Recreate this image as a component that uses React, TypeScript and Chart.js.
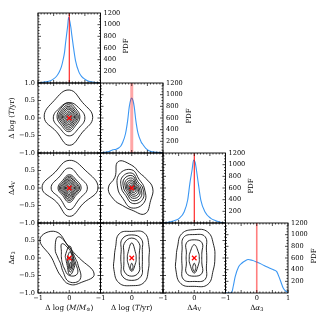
import React, { useEffect, useRef } from 'react';
import { Chart, registerables } from 'chart.js';
Chart.register(...registerables);

// ---------- data ----------
const X_TICK_LABELS = [-1, 0, 1];
const Y_TICK_LABELS = [1, 0.5, 0, -0.5, -1];
const PDF_TICK_LABELS = [200, 400, 600, 800, 1000, 1200];

// 1D PDFs (x, value)
const PDF_M_X = [-1, -0.85, -0.6, -0.5, -0.4, -0.32, -0.25, -0.2, -0.15, -0.12, -0.08, -0.05, -0.02, 0.0, 0.05, 0.08, 0.12, 0.2, 0.31, 0.4, 0.5, 0.6, 0.85, 1.0];
const PDF_M_Y = [0, 10, 40, 70, 120, 187, 280, 390, 530, 677, 850, 980, 1125, 1100, 960, 830, 670, 385, 187, 110, 65, 35, 8, 0];

const PDF_T_X = [-1, -0.8, -0.6, -0.5, -0.42, -0.35, -0.3, -0.2, -0.13, -0.08, -0.03, 0, 0.04, 0.08, 0.13, 0.2, 0.3, 0.35, 0.45, 0.55, 0.7, 1.0];
const PDF_T_Y = [5, 15, 55, 65, 85, 120, 170, 330, 560, 790, 920, 940, 900, 790, 560, 340, 190, 150, 80, 40, 15, 3];

const PDF_AV_X = [-1, -0.9, -0.64, -0.48, -0.32, -0.21, -0.14, -0.07, -0.02, 0.03, 0.07, 0.13, 0.21, 0.34, 0.53, 0.69, 0.9, 1.0];
const PDF_AV_Y = [0, 5, 40, 80, 194, 394, 680, 909, 1080, 1040, 909, 680, 394, 194, 80, 40, 5, 0];

const PDF_AL_X = [-1, -0.85, -0.8, -0.75, -0.69, -0.58, -0.48, -0.38, -0.27, -0.15, 0, 0.15, 0.3, 0.42, 0.55, 0.64, 0.75, 0.85, 0.96, 1.0];
const PDF_AL_Y = [0, 0, 10, 120, 280, 450, 510, 550, 575, 560, 530, 495, 455, 423, 395, 366, 223, 80, 22, 10];

// 2D contours: centre c and radii r at equally spaced angles starting east, counter-clockwise
type Ring = { c: number[]; r: number[] };
const C_M_T: Ring[] = [
  { c: [0, 0.02], r: [0.75, 0.6, 0.78, 0.68, 0.8, 0.58, 0.8, 0.6] },
  { c: [0, 0], r: [0.5, 0.42, 0.44, 0.42, 0.51, 0.42, 0.51, 0.42] },
  { c: [-0.02, 0.03], r: [0.36, 0.33, 0.4, 0.35, 0.37, 0.33, 0.42, 0.33] },
  { c: [-0.02, 0.03], r: [0.31, 0.28, 0.35, 0.3, 0.32, 0.28, 0.37, 0.28] },
  { c: [-0.02, 0.03], r: [0.27, 0.24, 0.3, 0.26, 0.28, 0.24, 0.32, 0.24] },
  { c: [-0.02, 0.03], r: [0.23, 0.2, 0.26, 0.22, 0.24, 0.2, 0.27, 0.2] },
  { c: [-0.02, 0.03], r: [0.19, 0.17, 0.22, 0.18, 0.2, 0.17, 0.22, 0.17] },
  { c: [-0.02, 0.03], r: [0.15, 0.13, 0.17, 0.14, 0.16, 0.13, 0.18, 0.13] },
  { c: [-0.02, 0.03], r: [0.11, 0.1, 0.13, 0.1, 0.12, 0.1, 0.13, 0.1] },
  { c: [-0.02, 0.03], r: [0.075, 0.065, 0.085, 0.07, 0.08, 0.065, 0.09, 0.065] },
  { c: [-0.02, 0.03], r: [0.04, 0.035, 0.045, 0.035, 0.04, 0.035, 0.045, 0.035] },
];
const C_M_AV: Ring[] = [
  { c: [0, 0], r: [0.92, 0.72, 0.79, 0.64, 0.87, 0.57, 0.81, 0.63] },
  { c: [0, 0], r: [0.58, 0.45, 0.57, 0.45, 0.58, 0.42, 0.62, 0.45] },
  { c: [0, 0], r: [0.38, 0.32, 0.38, 0.3, 0.36, 0.3, 0.41, 0.3] },
  { c: [0, 0], r: [0.33, 0.27, 0.34, 0.26, 0.32, 0.26, 0.36, 0.26] },
  { c: [0, 0], r: [0.29, 0.24, 0.3, 0.23, 0.28, 0.23, 0.32, 0.23] },
  { c: [0, 0], r: [0.25, 0.2, 0.26, 0.2, 0.24, 0.2, 0.27, 0.2] },
  { c: [0, 0], r: [0.21, 0.17, 0.22, 0.17, 0.2, 0.17, 0.23, 0.17] },
  { c: [0, 0], r: [0.17, 0.14, 0.18, 0.14, 0.16, 0.14, 0.19, 0.14] },
  { c: [0, 0], r: [0.13, 0.11, 0.14, 0.11, 0.125, 0.11, 0.15, 0.11] },
  { c: [0, 0], r: [0.09, 0.075, 0.1, 0.075, 0.09, 0.075, 0.1, 0.075] },
  { c: [0, 0], r: [0.05, 0.042, 0.055, 0.042, 0.05, 0.042, 0.055, 0.042] },
];
const C_T_AV: Ring[] = [
  { c: [0, 0], r: [0.67, 0.53, 0.5, 0.65, 0.87, 0.62, 0.75, 0.66, 0.58, 0.63, 0.85, 0.7] },
  { c: [0, 0], r: [0.4, 0.34, 0.52, 0.56, 0.45, 0.41, 0.57, 0.57] },
  { c: [0.02, 0], r: [0.33, 0.25, 0.42, 0.45, 0.35, 0.3, 0.44, 0.46] },
  { c: [0.02, 0], r: [0.27, 0.2, 0.35, 0.37, 0.28, 0.24, 0.36, 0.38] },
  { c: [0.02, 0], r: [0.22, 0.16, 0.28, 0.3, 0.22, 0.19, 0.29, 0.31] },
  { c: [0.02, 0], r: [0.18, 0.13, 0.22, 0.24, 0.18, 0.15, 0.23, 0.25] },
  { c: [0.02, 0], r: [0.14, 0.1, 0.17, 0.19, 0.14, 0.12, 0.18, 0.19] },
  { c: [0.02, 0], r: [0.1, 0.08, 0.12, 0.14, 0.1, 0.09, 0.13, 0.14] },
  { c: [0.02, 0], r: [0.07, 0.055, 0.08, 0.09, 0.07, 0.06, 0.09, 0.09] },
  { c: [0.02, 0], r: [0.04, 0.03, 0.045, 0.05, 0.04, 0.035, 0.05, 0.05] },
];
const C_M_AL: Ring[] = [
  { c: [0, 0], r: [0.32, 0.22, 0.22, 0.3, 0.87, 1.08, 0.56, 0.5, 0.57, 0.75, 0.8, 0.92] },
  { c: [0, 0], r: [0.19, 0.17, 0.2, 0.32, 0.7, 0.52, 0.36, 0.32, 0.42, 0.68, 0.7, 0.31] },
  { c: [0, 0], r: [0.14, 0.14, 0.15, 0.25, 0.47, 0.29, 0.25, 0.26, 0.33, 0.5, 0.52, 0.22] },
  { c: [0.02, -0.06], r: [0.11, 0.14, 0.4, 0.2, 0.12, 0.14, 0.42, 0.22] },
  { c: [0.03, -0.1], r: [0.08, 0.1, 0.28, 0.13, 0.08, 0.1, 0.3, 0.15] },
  { c: [0.04, -0.15], r: [0.05, 0.06, 0.17, 0.08, 0.05, 0.06, 0.18, 0.08] },
  { c: [0.05, -0.2], r: [0.03, 0.035, 0.08, 0.04, 0.03, 0.035, 0.08, 0.04] },
];
const C_T_AL: Ring[] = [
  { c: [0, 0], r: [0.55, 0.64, 0.82, 0.76, 0.8, 0.6, 0.56, 0.66, 0.82, 0.79, 0.8, 0.62] },
  { c: [0, 0], r: [0.34, 0.39, 0.62, 0.66, 0.62, 0.39, 0.35, 0.39, 0.6, 0.64, 0.6, 0.39] },
  { c: [0, 0], r: [0.24, 0.28, 0.48, 0.57, 0.48, 0.29, 0.25, 0.29, 0.46, 0.52, 0.46, 0.28] },
  { c: [0, 0], r: [0.14, 0.18, 0.43, 0.18, 0.14, 0.18, 0.38, 0.18] },
  { c: [0, -0.25], r: [0.04, 0.05, 0.1, 0.05, 0.04, 0.05, 0.1, 0.05] },
];
const C_AV_AL: Ring[] = [
  { c: [0, 0], r: [0.66, 0.72, 0.86, 0.81, 0.8, 0.62, 0.58, 0.68, 0.85, 0.81, 0.87, 0.7] },
  { c: [0, 0], r: [0.4, 0.45, 0.7, 0.67, 0.68, 0.45, 0.4, 0.45, 0.7, 0.67, 0.7, 0.45] },
  { c: [0, 0], r: [0.24, 0.28, 0.5, 0.52, 0.5, 0.29, 0.26, 0.29, 0.5, 0.52, 0.5, 0.28] },
  { c: [0, 0], r: [0.16, 0.2, 0.38, 0.2, 0.16, 0.21, 0.43, 0.21] },
  { c: [0, -0.27], r: [0.05, 0.06, 0.12, 0.06, 0.05, 0.06, 0.12, 0.06] },
];

// ---------- layout / style ----------
const COLS = [38, 100.5, 163, 225.5, 288];
const ROWS = [13, 83, 153, 223, 293];
const FONT = '"DejaVu Serif", serif';
const FS = 6.6;
const BLUE = '#3b97f3';

type Seg = { t: string; i?: boolean; s?: boolean };
const TITLES: Seg[][] = [
  [{ t: 'Δ log (' }, { t: 'M', i: true }, { t: '/' }, { t: 'M', i: true }, { t: '⊙', s: true }, { t: ')' }],
  [{ t: 'Δ log (' }, { t: 'T', i: true }, { t: '/yr)' }],
  [{ t: 'Δ' }, { t: 'A', i: true }, { t: 'V', s: true }],
  [{ t: 'Δ' }, { t: 'α', i: true }, { t: '3', s: true }],
];

const TRUTH_STYLE = [
  { c: 'rgb(255,0,0)', w: 1 },
  { c: 'rgba(255,0,0,0.35)', w: 3 },
  { c: 'rgb(255,0,0)', w: 1 },
  { c: 'rgba(255,40,40,0.6)', w: 1.6 },
];

function drawRich(ctx: CanvasRenderingContext2D, segs: Seg[], cx: number, cy: number, size: number, rot: boolean) {
  ctx.save();
  ctx.translate(cx, cy);
  if (rot) ctx.rotate(-Math.PI / 2);
  const fontFor = (g: Seg) => `${g.i ? 'italic ' : ''}${g.s ? size * 0.7 : size}px ${FONT}`;
  let total = 0;
  const ws = segs.map((g) => {
    ctx.font = fontFor(g);
    const w = ctx.measureText(g.t).width;
    total += w;
    return w;
  });
  let x = -total / 2;
  ctx.textBaseline = 'middle';
  ctx.textAlign = 'left';
  ctx.fillStyle = '#000';
  segs.forEach((g, k) => {
    ctx.font = fontFor(g);
    ctx.fillText(g.t, x, g.s ? size * 0.3 : 0);
    x += ws[k];
  });
  ctx.restore();
}

const fmt1 = (v: number) => (v < 0 ? '−' : '') + Math.abs(v).toFixed(1);
const fmt0 = (v: number) => (v < 0 ? '−' : '') + Math.abs(v).toFixed(0);

const decoPlugin = {
  id: 'deco',
  afterDraw(chart: any, _a: any, opts: any) {
    const { ctx, chartArea } = chart;
    const { left, right, top, bottom } = chartArea;
    const xs = chart.scales.x;
    const ys = chart.scales.y;
    const { row, col, pdf } = opts;
    ctx.save();
    ctx.strokeStyle = '#000';
    ctx.lineWidth = 0.9;
    ctx.strokeRect(left, top, right - left, bottom - top);
    // x ticks (inward, top & bottom)
    ctx.lineWidth = 0.7;
    ctx.beginPath();
    for (let k = -10; k <= 10; k++) {
      const v = k / 10;
      const px = xs.getPixelForValue(v);
      const len = k % 5 === 0 ? 3 : 1.5;
      ctx.moveTo(px, bottom);
      ctx.lineTo(px, bottom - len);
      ctx.moveTo(px, top);
      ctx.lineTo(px, top + len);
    }
    if (pdf) {
      for (let v = 50; v < 1200; v += 50) {
        const py = ys.getPixelForValue(v);
        const len = v % 200 === 0 ? 3 : 1.5;
        ctx.moveTo(left, py);
        ctx.lineTo(left + len, py);
        ctx.moveTo(right, py);
        ctx.lineTo(right - len, py);
      }
    } else {
      for (let k = -10; k <= 10; k++) {
        const v = k / 10;
        const py = ys.getPixelForValue(v);
        const len = k % 5 === 0 ? 3 : 1.5;
        ctx.moveTo(left, py);
        ctx.lineTo(left + len, py);
        ctx.moveTo(right, py);
        ctx.lineTo(right - len, py);
      }
    }
    ctx.stroke();
    ctx.fillStyle = '#000';
    ctx.font = `${FS}px ${FONT}`;
    if (pdf) {
      ctx.textAlign = 'left';
      ctx.textBaseline = 'middle';
      PDF_TICK_LABELS.forEach((v) => ctx.fillText(String(v), right + 3, ys.getPixelForValue(v)));
      drawRich(ctx, [{ t: 'PDF' }], right + 26, (top + bottom) / 2 - 2, FS + 0.4, true);
    }
    if (col === 0 && row > 0) {
      ctx.font = `${FS}px ${FONT}`;
      ctx.textAlign = 'right';
      ctx.textBaseline = 'middle';
      Y_TICK_LABELS.forEach((v) => {
        if (v === 1 && row !== 1) return;
        ctx.fillText(fmt1(v), left - 3, ys.getPixelForValue(v));
      });
      drawRich(ctx, TITLES[row], 12, (top + bottom) / 2, FS + 0.6, true);
    }
    if (row === 3) {
      ctx.font = `${FS}px ${FONT}`;
      ctx.textAlign = 'center';
      ctx.textBaseline = 'middle';
      X_TICK_LABELS.forEach((v) => {
        if (v === 1 && col !== 3) return;
        ctx.fillText(fmt0(v), xs.getPixelForValue(v), bottom + 5.5);
      });
      drawRich(ctx, TITLES[col], (left + right) / 2, bottom + 15, FS + 0.6, false);
    }
    ctx.restore();
  },
};

function ringPoints(g: Ring) {
  const n = g.r.length;
  const pts = g.r.map((r, k) => {
    const a = (2 * Math.PI * k) / n;
    return { x: g.c[0] + r * Math.cos(a), y: g.c[1] + r * Math.sin(a) };
  });
  return [pts[n - 1], ...pts, pts[0], pts[1]];
}

type Panel = { row: number; col: number; pdfX?: number[]; pdfY?: number[]; rings?: Ring[] };
const PANELS: Panel[] = [
  { row: 0, col: 0, pdfX: PDF_M_X, pdfY: PDF_M_Y },
  { row: 1, col: 1, pdfX: PDF_T_X, pdfY: PDF_T_Y },
  { row: 2, col: 2, pdfX: PDF_AV_X, pdfY: PDF_AV_Y },
  { row: 3, col: 3, pdfX: PDF_AL_X, pdfY: PDF_AL_Y },
  { row: 1, col: 0, rings: C_M_T },
  { row: 2, col: 0, rings: C_M_AV },
  { row: 2, col: 1, rings: C_T_AV },
  { row: 3, col: 0, rings: C_M_AL },
  { row: 3, col: 1, rings: C_T_AL },
  { row: 3, col: 2, rings: C_AV_AL },
];

function buildConfig(p: Panel): any {
  const pdf = !!p.pdfX;
  const datasets: any[] = [];
  if (pdf) {
    const st = TRUTH_STYLE[p.col];
    datasets.push({
      data: [{ x: 0, y: 0 }, { x: 0, y: 1200 }],
      showLine: true,
      borderColor: st.c,
      borderWidth: st.w,
      pointRadius: 0,
    });
    datasets.push({
      data: p.pdfX!.map((x, k) => ({ x, y: p.pdfY![k] })),
      showLine: true,
      borderColor: BLUE,
      borderWidth: 1.1,
      pointRadius: 0,
      cubicInterpolationMode: 'monotone',
    });
  } else {
    datasets.push({
      data: [{ x: 0, y: 0 }],
      pointStyle: 'crossRot',
      pointRadius: 3.2,
      borderColor: 'red',
      backgroundColor: 'red',
      borderWidth: 1.2,
    });
    p.rings!.forEach((g) => {
      const n = g.r.length;
      datasets.push({
        data: ringPoints(g),
        showLine: true,
        borderColor: '#111',
        borderWidth: 0.9,
        pointRadius: 0,
        tension: 0.45,
        segment: {
          borderColor: (c: any) => (c.p0DataIndex === 0 || c.p0DataIndex === n + 1 ? 'rgba(0,0,0,0)' : undefined),
        },
      });
    });
  }
  const x0 = COLS[p.col], x1 = COLS[p.col + 1], y0 = ROWS[p.row], y1 = ROWS[p.row + 1];
  return {
    type: 'scatter',
    data: { datasets },
    options: {
      responsive: false,
      animation: false,
      events: [],
      layout: { padding: { left: x0, top: y0, right: 320 - x1, bottom: 320 - y1 } },
      scales: {
        x: { type: 'linear', min: -1, max: 1, display: false },
        y: { type: 'linear', min: pdf ? 0 : -1, max: pdf ? 1200 : 1, display: false },
      },
      plugins: {
        legend: { display: false },
        tooltip: { enabled: false },
        deco: { row: p.row, col: p.col, pdf },
      },
    },
    plugins: [decoPlugin],
  };
}

export default function App() {
  const refs = useRef<(HTMLCanvasElement | null)[]>([]);
  useEffect(() => {
    const charts = PANELS.map((p, k) => new Chart(refs.current[k] as HTMLCanvasElement, buildConfig(p)));
    return () => charts.forEach((c) => c.destroy());
  }, []);
  return (
    <div style={{ position: 'fixed', left: 0, top: 0, width: 320, height: 320, background: '#fff' }}>
      {PANELS.map((p, k) => (
        <canvas
          key={k}
          ref={(el) => { refs.current[k] = el; }}
          width={320}
          height={320}
          style={{ position: 'absolute', left: 0, top: 0, width: 320, height: 320 }}
        />
      ))}
    </div>
  );
}
